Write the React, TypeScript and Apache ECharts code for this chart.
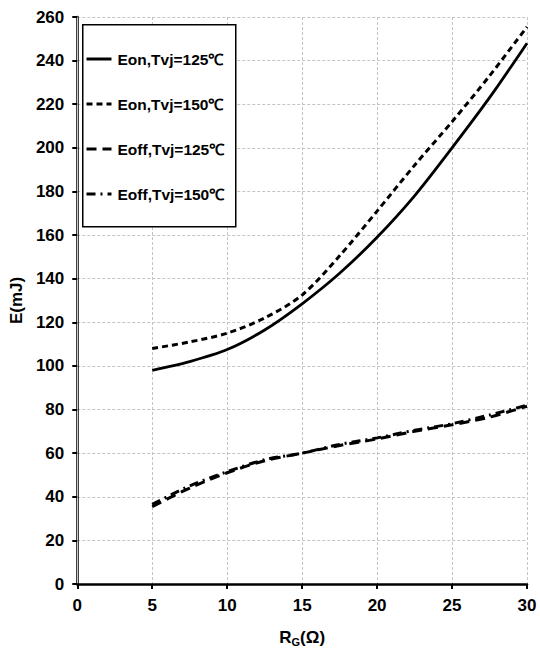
import React, { useEffect, useRef } from "react";
import * as echarts from "echarts";

const rg = [5, 7.5, 10, 12.5, 15, 17.5, 20, 22.5, 25, 27.5, 30];
const eon125 = [98, 102, 107.5, 116.5, 128.5, 142.5, 159, 178, 200, 223, 248];
const eon150 = [108, 111, 115, 122, 132.5, 150.5, 171, 192, 212, 233, 255.5];
const eoff125 = [35.5, 44, 51, 56.5, 60, 63.5, 66.5, 70, 73, 76.5, 81.5];
const eoff150 = [36.5, 45, 51.5, 57, 60, 64, 67, 70.5, 73.5, 77.5, 82];
const seriesNames = ["Eon,Tvj=125℃", "Eon,Tvj=150℃", "Eoff,Tvj=125℃", "Eoff,Tvj=150℃"];

const FONT = "'Liberation Sans', Arial, sans-serif";

export default function App() {
  const ref = useRef<HTMLDivElement>(null);
  useEffect(() => {
    if (!ref.current) return;
    const chart = echarts.init(ref.current, undefined, { renderer: "svg" });
    const pair = (ys: number[]) => rg.map((x, i) => [x, ys[i]]);
    const dashes = [null, [6, 4], [10, 6], [9, 5, 2, 5]];
    const widths = [2.8, 3, 3, 3];
    const datas = [eon125, eon150, eoff125, eoff150];
    chart.setOption({
      animation: false,
      backgroundColor: "#fff",
      grid: { left: 77, top: 17, right: 13, bottom: 69, containLabel: false },
      graphic: [
        {
          type: "rect",
          left: 82,
          top: 24,
          z: 50,
          shape: { width: 153, height: 202 },
          style: { fill: "#fff", stroke: "#000", lineWidth: 1.5 },
        },
      ],
      legend: {
        orient: "vertical",
        left: 82,
        top: 24,
        z: 60,
        padding: [27, 4, 27, 3],
        itemGap: 29,
        itemWidth: 25,
        itemHeight: 16,
        data: seriesNames,
        itemStyle: { opacity: 0 },
        lineStyle: { width: 3 },
        textStyle: { fontFamily: FONT, fontWeight: "bold", fontSize: 15.5, color: "#000", padding: [0, 0, 0, 1] },
      },
      xAxis: {
        type: "value",
        min: 0,
        max: 30,
        interval: 5,
        name: "{a|R}{b|G}{a|(Ω)}",
        nameLocation: "middle",
        nameGap: 44,
        nameTextStyle: {
          rich: {
            a: { fontFamily: FONT, fontWeight: "bold", fontSize: 17, color: "#000" },
            b: { fontFamily: FONT, fontWeight: "bold", fontSize: 11, color: "#000", verticalAlign: "bottom", padding: [8, 0, 0, 0] },
          },
        },
        axisLine: { show: true, onZero: false, lineStyle: { color: "#000", width: 2.5 } },
        axisTick: { show: true, length: 5, lineStyle: { color: "#000", width: 2 } },
        axisLabel: { margin: 13, fontFamily: FONT, fontWeight: "bold", fontSize: 17, color: "#000" },
        splitLine: { show: true, lineStyle: { color: "#c4c4c4", type: [3, 2], width: 1 } },
      },
      yAxis: [
        {
          type: "value",
          min: 0,
          max: 260,
          interval: 20,
          name: "E(mJ)",
          nameLocation: "middle",
          nameGap: 42,
          nameRotate: 90,
          nameTextStyle: { fontFamily: FONT, fontWeight: "bold", fontSize: 17, color: "#000" },
          axisLine: { show: true, onZero: false, lineStyle: { color: "#000", width: 2.5 } },
          axisTick: { show: true, length: 5, lineStyle: { color: "#000", width: 2 } },
          axisLabel: { margin: 13, fontFamily: FONT, fontWeight: "bold", fontSize: 17, color: "#000" },
          splitLine: { show: true, lineStyle: { color: "#c4c4c4", type: [3, 2], width: 1 } },
        },
        {
          type: "value",
          position: "right",
          min: 0,
          max: 260,
          interval: 20,
          axisLine: { show: true, lineStyle: { color: "#c8c8c8", width: 1 } },
          axisTick: { show: false },
          axisLabel: { show: false },
          splitLine: { show: false },
        },
      ],
      series: seriesNames.map((name, i) => ({
        name,
        type: "line",
        yAxisIndex: 0,
        data: pair(datas[i]),
        smooth: 0.3,
        showSymbol: false,
        symbol: "none",
        z: 10 + i,
        lineStyle: {
          color: "#000",
          width: widths[i],
          type: dashes[i] ? dashes[i] : "solid",
        },
        itemStyle: { color: "#000" },
      })),
    });
    return () => chart.dispose();
  }, []);
  return <div ref={ref} style={{ width: 540, height: 653, position: "absolute", left: 0, top: 0 }} />;
}
